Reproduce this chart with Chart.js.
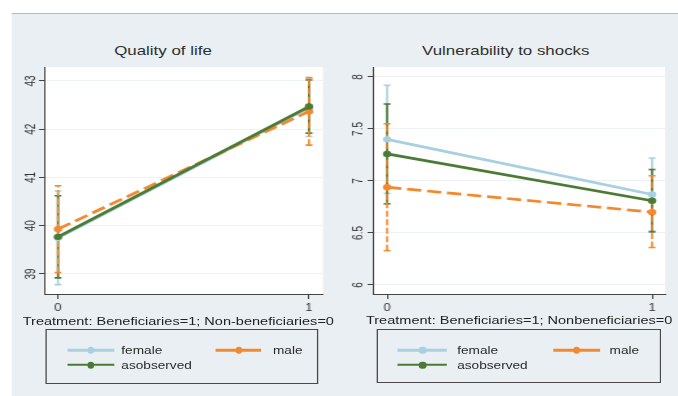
<!DOCTYPE html>
<html>
<head>
<meta charset="utf-8">
<script src="https://cdn.jsdelivr.net/npm/chart.js@4.4.1/dist/chart.umd.min.js"></script>
<style>
  body { margin: 0; background: #fff; }
  /* the reference is a horizontally stretched Stata export, so the whole stage is stretched too */
  #stage { position: absolute; left: 0; top: 0; width: 522px; height: 396px;
           transform: scaleX(1.2989); transform-origin: 0 0;
           font-family: "Liberation Sans", Arial, sans-serif; color: #333; }
  #rule { position: absolute; left: 8.5px; right: 0; top: 13px; height: 1px; background: #b8b8b8; }
  #panel { position: absolute; left: 8.5px; right: 0; top: 14px; bottom: 0; background: #e9eff2; }
  .wrap { position: absolute; top: 14px; height: 316px; }
  .title { position: absolute; font-size: 13px; line-height: 15px; white-space: nowrap; transform: translate(-50%, -50%); color: #2f2f2f; }
  .xtitle { position: absolute; font-size: 11.2px; line-height: 13px; white-space: nowrap; transform: translate(-50%, -50%); color: #222; }
  .legend { position: absolute; border: 1px solid #4a4a4a; box-sizing: border-box; }
  .key { position: absolute; height: 2.5px; transform: translateY(-50%); }
  .dot { position: absolute; width: 5.2px; height: 6.6px; border-radius: 50%; transform: translate(-50%, -50%); }
  .lab { position: absolute; font-size: 10.5px; line-height: 12px; transform: translateY(-50%); white-space: nowrap; color: #2a2a2a; }
</style>
</head>
<body>
<div id="stage">
  <div id="rule"></div>
  <div id="panel"></div>

  <div class="title" style="left:125.5px; top:50px;">Quality of life</div>
  <div class="title" style="left:389.4px; top:50px;">Vulnerability to shocks</div>

  <div class="wrap" style="left:8px; width:254px;"><canvas id="qolChart" width="254" height="316"></canvas></div>
  <div class="wrap" style="left:262px; width:260px;"><canvas id="vulChart" width="260" height="316"></canvas></div>

  <div class="xtitle" style="left:137.3px; top:321px;">Treatment: Beneficiaries=1; Non-beneficiaries=0</div>
  <div class="xtitle" style="left:399.7px; top:320px;">Treatment: Beneficiaries=1; Nonbeneficiaries=0</div>

  <div class="legend" id="qolLegend" style="left:34.6px; top:329.3px; width:210px; height:55px;"></div>
  <div class="legend" id="vulLegend" style="left:290.2px; top:329.3px; width:218.4px; height:53.4px;"></div>
</div>

<script>
// x categories
const treatment = [0, 1];
const groups = ['female', 'male', 'asobserved'];

// Quality of life: means and 95% CI
const qolTicks = [39, 40, 41, 42, 43];
const qolFemale = [39.75, 42.45];
const qolFemaleLo = [38.78, 41.85];
const qolFemaleHi = [40.72, 43.05];
const qolMale = [39.93, 42.37];
const qolMaleLo = [39.03, 41.67];
const qolMaleHi = [40.83, 43.07];
const qolObserved = [39.77, 42.47];
const qolObservedLo = [38.92, 41.92];
const qolObservedHi = [40.62, 43.02];

// Vulnerability to shocks: means and 95% CI
const vulTicks = [6, 6.5, 7, 7.5, 8];
const vulFemale = [7.40, 6.87];
const vulFemaleLo = [6.88, 6.52];
const vulFemaleHi = [7.92, 7.22];
const vulMale = [6.94, 6.70];
const vulMaleLo = [6.33, 6.36];
const vulMaleHi = [7.55, 7.05];
const vulObserved = [7.26, 6.81];
const vulObservedLo = [6.78, 6.51];
const vulObservedHi = [7.74, 7.11];

const groupColors = ['#a9d0e2', '#f3892e', '#4b7a34'];
const axisColor = '#444';
const fontFamily = '"Liberation Sans", Arial, sans-serif';

// white plot region like Stata's plotregion
const plotBg = {
  id: 'plotBg',
  beforeDraw(chart) {
    const { ctx, chartArea: a } = chart;
    ctx.save();
    ctx.fillStyle = '#ffffff';
    ctx.fillRect(a.left, a.top, a.right - a.left, a.bottom - a.top);
    ctx.restore();
  }
};

function buildDatasets(series) {
  const sets = [];
  series.forEach((s, i) => {
    const c = groupColors[i];
    const dashed = groups[i] === 'male';
    // CI bars, male on top of asobserved on top of female
    const barOrder = { female: 13, asobserved: 12, male: 11 }[groups[i]];
    treatment.forEach((t, j) => {
      sets.push({
        data: [{ x: t, y: s.lo[j] }, { x: t, y: s.hi[j] }],
        borderColor: c,
        borderWidth: 1.6,
        borderDash: dashed ? [6, 2.5] : [],
        pointStyle: 'line',
        pointRadius: 2.6,
        pointBorderColor: c,
        pointBorderWidth: 1.6,
        order: barOrder
      });
    });
    const lineOrder = { female: 5, male: 4, asobserved: 3 }[groups[i]];
    sets.push({
      label: groups[i],
      data: treatment.map((t, j) => ({ x: t, y: s.mean[j] })),
      borderColor: c,
      borderWidth: 2.7,
      borderDash: dashed ? [11, 4.5] : [],
      pointStyle: 'circle',
      pointRadius: 3.2,
      pointBackgroundColor: c,
      pointBorderWidth: 0,
      order: lineOrder
    });
  });
  return sets;
}

function makePanel(id, series, yTicks, yMin, yMax, xMin, xMax, yWidth, padRight, tickPad) {
  new Chart(document.getElementById(id), {
    type: 'scatter',
    data: { datasets: buildDatasets(series) },
    options: {
      responsive: false,
      animation: false,
      events: [],
      showLine: true,
      layout: { padding: { top: 53, right: padRight, bottom: 0, left: 0 } },
      plugins: { legend: { display: false }, tooltip: { enabled: false }, title: { display: false } },
      scales: {
        x: {
          type: 'linear',
          min: xMin,
          max: xMax,
          afterBuildTicks: sc => { sc.ticks = treatment.map(v => ({ value: v })); },
          afterFit: sc => { sc.height = 36; },
          border: { display: true, color: axisColor, width: 1 },
          grid: { drawOnChartArea: false, drawTicks: true, tickLength: 5, tickColor: axisColor, color: axisColor },
          ticks: { color: '#333', font: { family: fontFamily, size: 10 }, padding: 3, maxRotation: 0, callback: v => String(v) }
        },
        y: {
          min: yMin,
          max: yMax,
          afterBuildTicks: sc => { sc.ticks = yTicks.map(v => ({ value: v })); },
          afterFit: sc => { sc.width = yWidth; },
          border: { display: true, color: axisColor, width: 1 },
          grid: { color: '#edf2f5', drawTicks: true, tickLength: 4, tickColor: axisColor },
          ticks: {
            color: '#333',
            font: { family: fontFamily, size: 10 },
            minRotation: 90,
            maxRotation: 90,
            crossAlign: 'center',
            padding: tickPad,
            callback: v => String(v)
          }
        }
      }
    },
    plugins: [plotBg]
  });
}

makePanel('qolChart', [
  { mean: qolFemale, lo: qolFemaleLo, hi: qolFemaleHi },
  { mean: qolMale, lo: qolMaleLo, hi: qolMaleHi },
  { mean: qolObserved, lo: qolObservedLo, hi: qolObservedHi }
], qolTicks, 38.585, 43.29, -0.055, 1.055, 26, 13.5, 0.5);

makePanel('vulChart', [
  { mean: vulFemale, lo: vulFemaleLo, hi: vulFemaleHi },
  { mean: vulMale, lo: vulMaleLo, hi: vulMaleHi },
  { mean: vulObserved, lo: vulObservedLo, hi: vulObservedHi }
], vulTicks, 5.913, 8.096, -0.054, 1.049, 25, 10, -0.5);

// Stata-style boxed legends (two columns, three keys)
function buildLegend(id, slots) {
  const box = document.getElementById(id);
  groups.forEach((g, i) => {
    const s = slots[i];
    const key = document.createElement('div');
    key.className = 'key';
    key.style.cssText = `left:${s.lx}px; top:${s.y}px; width:${s.lw}px; background:${groupColors[i]};`;
    const dot = document.createElement('div');
    dot.className = 'dot';
    dot.style.cssText = `left:${s.lx + s.lw / 2}px; top:${s.y}px; background:${groupColors[i]};`;
    const lab = document.createElement('div');
    lab.className = 'lab';
    lab.style.cssText = `left:${s.tx}px; top:${s.y}px;`;
    lab.textContent = g;
    box.append(key, dot, lab);
  });
}

buildLegend('qolLegend', [
  { lx: 16.7, lw: 35.9, tx: 57.8, y: 20 },
  { lx: 130.9, lw: 34.7, tx: 174.6, y: 20 },
  { lx: 16.7, lw: 35.9, tx: 57.8, y: 34.7 }
]);
buildLegend('vulLegend', [
  { lx: 15.2, lw: 38, tx: 60.8, y: 20 },
  { lx: 134.5, lw: 35.9, tx: 178.1, y: 20 },
  { lx: 15.2, lw: 38, tx: 60.8, y: 34.7 }
]);
</script>
</body>
</html>
